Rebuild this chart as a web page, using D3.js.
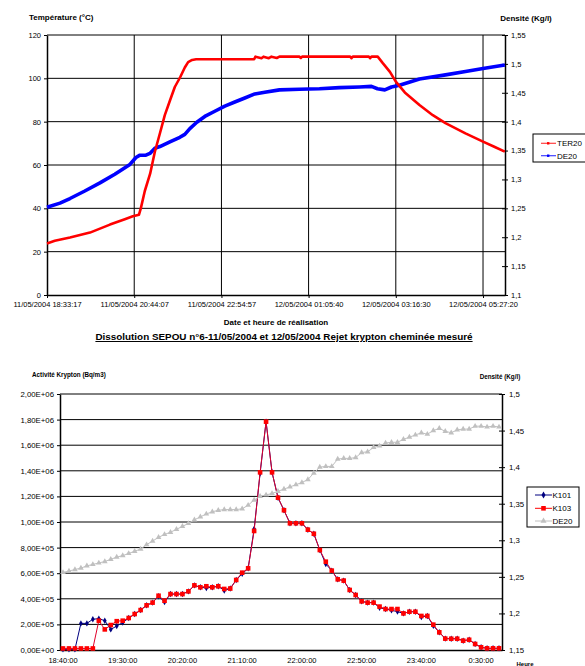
<!DOCTYPE html>
<html>
<head>
<meta charset="utf-8">
<script src="https://cdn.jsdelivr.net/npm/d3@7"></script>
<style>
body { margin: 0; background: #fff; }
svg { display: block; font-family: "Liberation Sans", Arial, sans-serif; }
</style>
</head>
<body>
<svg id="chart" width="585" height="666"></svg>
<script>
// ---- top chart data : temperature + density vs date ----
var topStart = "11/05/2004 18:33:17";
var topEnd = "12/05/2004 06:00:18";
var topTicks = ["11/05/2004 18:33:17", "11/05/2004 20:44:07", "11/05/2004 22:54:57",
                "12/05/2004 01:05:40", "12/05/2004 03:16:30", "12/05/2004 05:27:20"];
var tempTicks = [0, 20, 40, 60, 80, 100, 120];
var densTicks = [1.1, 1.15, 1.2, 1.25, 1.3, 1.35, 1.4, 1.45, 1.5, 1.55];

var ter20 = [
  ["11/05/2004 18:33:17", 23.8], ["11/05/2004 18:45:00", 25], ["11/05/2004 19:07:45", 26.5],
  ["11/05/2004 19:37:44", 28.8], ["11/05/2004 20:07:42", 32.5], ["11/05/2004 20:30:00", 35],
  ["11/05/2004 20:42:00", 36.3], ["11/05/2004 20:51:10", 37], ["11/05/2004 20:54:00", 40],
  ["11/05/2004 21:00:00", 48], ["11/05/2004 21:08:00", 56], ["11/05/2004 21:15:00", 66],
  ["11/05/2004 21:23:00", 75], ["11/05/2004 21:30:00", 83], ["11/05/2004 21:38:00", 90],
  ["11/05/2004 21:45:00", 96], ["11/05/2004 21:53:00", 100.5], ["11/05/2004 22:00:00", 105],
  ["11/05/2004 22:05:00", 107.5], ["11/05/2004 22:11:00", 108.5], ["11/05/2004 22:17:00", 108.8],
  ["11/05/2004 23:00:00", 108.8], ["11/05/2004 23:44:00", 108.8], ["11/05/2004 23:46:00", 110],
  ["11/05/2004 23:55:00", 109.3], ["11/05/2004 23:58:00", 110], ["12/05/2004 00:06:00", 109.3],
  ["12/05/2004 00:10:00", 110], ["12/05/2004 00:18:00", 109.4], ["12/05/2004 00:22:00", 110],
  ["12/05/2004 00:52:00", 110], ["12/05/2004 00:54:00", 109.4], ["12/05/2004 00:56:00", 110],
  ["12/05/2004 02:08:00", 110], ["12/05/2004 02:10:00", 109.3], ["12/05/2004 02:12:00", 110],
  ["12/05/2004 02:36:00", 110], ["12/05/2004 02:38:00", 109.3], ["12/05/2004 02:40:00", 110],
  ["12/05/2004 02:49:21", 110], ["12/05/2004 02:57:00", 107], ["12/05/2004 03:07:41", 103],
  ["12/05/2004 03:16:30", 98.5], ["12/05/2004 03:30:00", 93.5], ["12/05/2004 03:52:00", 87.7],
  ["12/05/2004 04:12:00", 83], ["12/05/2004 04:31:00", 79.3], ["12/05/2004 05:01:00", 74.6],
  ["12/05/2004 05:27:20", 70.8], ["12/05/2004 05:45:00", 68.3], ["12/05/2004 06:00:00", 66.2]
];

var de20Top = [
  ["11/05/2004 18:33:17", 1.252], ["11/05/2004 18:52:46", 1.259], ["11/05/2004 19:07:45", 1.267],
  ["11/05/2004 19:30:00", 1.280], ["11/05/2004 19:52:42", 1.294], ["11/05/2004 20:15:00", 1.309],
  ["11/05/2004 20:37:40", 1.326], ["11/05/2004 20:46:40", 1.338], ["11/05/2004 20:52:40", 1.342],
  ["11/05/2004 21:01:40", 1.342], ["11/05/2004 21:07:40", 1.345], ["11/05/2004 21:15:08", 1.354],
  ["11/05/2004 21:22:38", 1.357], ["11/05/2004 21:37:36", 1.365], ["11/05/2004 21:52:35", 1.373],
  ["11/05/2004 22:00:00", 1.378], ["11/05/2004 22:07:34", 1.388], ["11/05/2004 22:18:00", 1.399],
  ["11/05/2004 22:30:00", 1.409], ["11/05/2004 22:45:00", 1.418], ["11/05/2004 23:00:00", 1.427],
  ["11/05/2004 23:15:00", 1.434], ["11/05/2004 23:30:00", 1.441], ["11/05/2004 23:45:00", 1.448],
  ["12/05/2004 00:00:00", 1.451], ["12/05/2004 00:22:00", 1.455], ["12/05/2004 00:52:00", 1.456],
  ["12/05/2004 01:22:00", 1.457], ["12/05/2004 01:52:00", 1.459], ["12/05/2004 02:22:00", 1.460],
  ["12/05/2004 02:40:00", 1.461], ["12/05/2004 02:49:00", 1.457], ["12/05/2004 03:00:00", 1.455],
  ["12/05/2004 03:10:00", 1.460], ["12/05/2004 03:22:00", 1.463], ["12/05/2004 03:52:00", 1.474],
  ["12/05/2004 04:31:00", 1.481], ["12/05/2004 05:01:00", 1.487], ["12/05/2004 05:27:20", 1.492],
  ["12/05/2004 06:00:00", 1.498]
];

// ---- bottom chart data : krypton activity, one point every 5 minutes ----
var categories = [
  "18:40:00", "18:45:00", "18:50:00", "18:55:00", "19:00:00", "19:05:00", "19:10:00", "19:15:00",
  "19:20:00", "19:25:00", "19:30:00", "19:35:00", "19:40:00", "19:45:00", "19:50:00", "19:55:00",
  "20:00:00", "20:05:00", "20:10:00", "20:15:00", "20:20:00", "20:25:00", "20:30:00", "20:35:00",
  "20:40:00", "20:45:00", "20:50:00", "20:55:00", "21:00:00", "21:05:00", "21:10:00", "21:15:00",
  "21:20:00", "21:25:00", "21:30:00", "21:35:00", "21:40:00", "21:45:00", "21:50:00", "21:55:00",
  "22:00:00", "22:05:00", "22:10:00", "22:15:00", "22:20:00", "22:25:00", "22:30:00", "22:35:00",
  "22:40:00", "22:45:00", "22:50:00", "22:55:00", "23:00:00", "23:05:00", "23:10:00", "23:15:00",
  "23:20:00", "23:25:00", "23:30:00", "23:35:00", "23:40:00", "23:45:00", "23:50:00", "23:55:00",
  "0:00:00", "0:05:00", "0:10:00", "0:15:00", "0:20:00", "0:25:00", "0:30:00", "0:35:00",
  "0:40:00", "0:45:00"
];
var catLabels = ["18:40:00", "19:30:00", "20:20:00", "21:10:00", "22:00:00", "22:50:00", "23:40:00", "0:30:00"];
var kTicks = [0, 2e5, 4e5, 6e5, 8e5, 1e6, 1.2e6, 1.4e6, 1.6e6, 1.8e6, 2e6];
var dens2Ticks = [1.15, 1.2, 1.25, 1.3, 1.35, 1.4, 1.45, 1.5];

var k101 = [
  5000, 5000, 5000, 208000, 208000, 240000, 245000, 229000, 161000, 187000,
  215000, 250000, 281000, 312000, 349000, 370000, 420000, 375000, 437000, 437000,
  437000, 458000, 505000, 490000, 485000, 490000, 498000, 465000, 480000, 547000,
  595000, 638000, 945000, 1380000, 1784000, 1388000, 1190000, 1092000, 990000, 990000,
  990000, 940000, 908000, 781000, 672000, 620000, 552000, 542000, 469000, 430000,
  380000, 370000, 370000, 330000, 320000, 310000, 300000, 286000, 299000, 299000,
  258000, 266000, 190000, 138000, 89000, 88000, 88000, 73000, 80000, 47000,
  21000, 13000, 13000, 13000
];
var k103 = [
  12000, 12000, 12000, 12000, 12000, 12000, 229000, 161000, 195000, 225000,
  229000, 250000, 281000, 312000, 349000, 370000, 424000, 385000, 437000, 437000,
  437000, 458000, 505000, 490000, 498000, 490000, 498000, 477000, 480000, 547000,
  604000, 638000, 930000, 1388000, 1784000, 1388000, 1190000, 1092000, 990000, 990000,
  990000, 940000, 908000, 781000, 690000, 620000, 552000, 542000, 469000, 430000,
  380000, 370000, 370000, 339000, 320000, 320000, 320000, 286000, 299000, 299000,
  266000, 266000, 198000, 138000, 89000, 88000, 88000, 73000, 80000, 47000,
  21000, 13000, 13000, 13000
];
var de20Bottom = [
  1.256, 1.258, 1.260, 1.262, 1.265, 1.267, 1.269, 1.271, 1.274, 1.277,
  1.279, 1.282, 1.285, 1.288, 1.294, 1.299, 1.304, 1.308, 1.311, 1.315,
  1.319, 1.323, 1.328, 1.332, 1.336, 1.339, 1.341, 1.342, 1.342, 1.342,
  1.343, 1.348, 1.355, 1.360, 1.362, 1.364, 1.367, 1.370, 1.373, 1.376,
  1.379, 1.383, 1.392, 1.400, 1.401, 1.401, 1.411, 1.412, 1.412, 1.413,
  1.420, 1.421, 1.427, 1.429, 1.433, 1.434, 1.434, 1.438, 1.441, 1.444,
  1.447, 1.445, 1.450, 1.453, 1.449, 1.447, 1.451, 1.452, 1.452, 1.456,
  1.456, 1.455, 1.456, 1.455
];

var font = "Liberation Sans, Arial, sans-serif";
var svg = d3.select("#chart");
var commaNum = function(d) { return String(+d.toFixed(2)).replace(".", ","); };
var sciNum = function(d) {
  var s = d.toExponential(2).split("e");
  var ex = +s[1];
  return s[0].replace(".", ",") + "E" + (ex < 0 ? "-" : "+") + (Math.abs(ex) < 10 ? "0" : "") + Math.abs(ex);
};

// style helper for axis groups
function styleAxis(g, size) {
  g.attr("font-family", font).attr("font-size", size);
  g.selectAll("text").attr("fill", "#000");
  g.selectAll("line").attr("stroke", "#000");
  g.select(".domain").attr("stroke", "#000").attr("stroke-width", 1.5);
}

////
//// Top chart
////
var parseT = d3.timeParse("%d/%m/%Y %H:%M:%S");
var fmtT = d3.timeFormat("%d/%m/%Y %H:%M:%S");
var tL = 47, tR = 505, tTop = 35, tBot = 295;

var xT = d3.scaleTime().domain([parseT(topStart), parseT(topEnd)]).range([tL, tR]);
var yTemp = d3.scaleLinear().domain([0, 120]).range([tBot, tTop]);
var yDens = d3.scaleLinear().domain([1.1, 1.55]).range([tBot, tTop]);

var gTop = svg.append("g");

// grid
gTop.append("g").selectAll("line")
  .data(tempTicks.slice(1))
  .enter().append("line")
  .attr("x1", tL).attr("x2", tR)
  .attr("y1", function(d) { return yTemp(d); })
  .attr("y2", function(d) { return yTemp(d); })
  .attr("stroke", "#000").attr("stroke-width", 1);
gTop.append("g").selectAll("line")
  .data(topTicks.slice(1))
  .enter().append("line")
  .attr("x1", function(d) { return xT(parseT(d)); })
  .attr("x2", function(d) { return xT(parseT(d)); })
  .attr("y1", tTop).attr("y2", tBot)
  .attr("stroke", "#000").attr("stroke-width", 1);

// axes
gTop.append("g")
  .attr("transform", "translate(" + tL + ",0)")
  .call(d3.axisLeft(yTemp).tickValues(tempTicks).tickSize(3).tickSizeOuter(0).tickPadding(3))
  .call(styleAxis, 7.5);

var axR = gTop.append("g")
  .attr("transform", "translate(" + tR + ",0)")
  .call(d3.axisRight(yDens).tickValues(densTicks).tickFormat(commaNum).tickSize(3).tickSizeOuter(0).tickPadding(3))
  .call(styleAxis, 7.5);
axR.selectAll(".tick line").attr("x1", -3);

gTop.append("g")
  .attr("transform", "translate(0," + tBot + ")")
  .call(d3.axisBottom(xT).tickValues(topTicks.map(parseT)).tickFormat(fmtT).tickSize(3).tickSizeOuter(0).tickPadding(4))
  .call(styleAxis, 7.5);

// series
var lineTemp = d3.line()
  .x(function(d) { return xT(parseT(d[0])); })
  .y(function(d) { return yTemp(d[1]); });
var lineDens = d3.line()
  .x(function(d) { return xT(parseT(d[0])); })
  .y(function(d) { return yDens(d[1]); });

gTop.append("path").datum(de20Top)
  .attr("d", lineDens).attr("fill", "none")
  .attr("stroke", "#0000ff").attr("stroke-width", 3.6).attr("stroke-linejoin", "round");
gTop.append("path").datum(ter20)
  .attr("d", lineTemp).attr("fill", "none")
  .attr("stroke", "#ff0000").attr("stroke-width", 2.6).attr("stroke-linejoin", "round");

// titles
gTop.append("text").attr("x", 29).attr("y", 20)
  .attr("font-family", font).attr("font-size", 8).attr("font-weight", "bold")
  .text("Température (°C)");
gTop.append("text").attr("x", 526).attr("y", 21).attr("text-anchor", "middle")
  .attr("font-family", font).attr("font-size", 8).attr("font-weight", "bold")
  .text("Densité (Kg/l)");
gTop.append("text").attr("x", 276).attr("y", 324.5).attr("text-anchor", "middle")
  .attr("font-family", font).attr("font-size", 8).attr("font-weight", "bold")
  .text("Date et heure de réalisation");

// legend
var legTop = gTop.append("g");
legTop.append("rect").attr("x", 533).attr("y", 134).attr("width", 60).attr("height", 28)
  .attr("fill", "#fff").attr("stroke", "#000");
[["TER20", "#ff0000", 143.3], ["DE20", "#0000ff", 155.7]].forEach(function(e) {
  legTop.append("line").attr("x1", 541).attr("x2", 556).attr("y1", e[2]).attr("y2", e[2])
    .attr("stroke", e[1]).attr("stroke-width", 1.2).attr("opacity", 0.75);
  legTop.append("rect").attr("x", 547).attr("y", e[2] - 1.2).attr("width", 2.4).attr("height", 2.4)
    .attr("fill", e[1]);
  legTop.append("text").attr("x", 557).attr("y", e[2] + 3)
    .attr("font-family", font).attr("font-size", 8).text(e[0]);
});

////
//// Bottom chart
////
var bL = 60, bR = 502, bTop = 394, bBot = 650;
var xB = d3.scaleBand().domain(categories).range([bL, bR]);
var cx = function(i) { return xB(categories[i]) + xB.bandwidth() / 2; };
var yK = d3.scaleLinear().domain([0, 2e6]).range([bBot, bTop]);
var yD2 = d3.scaleLinear().domain([1.15, 1.5]).range([bBot, bTop]);

var gBot = svg.append("g");

svg.append("text").attr("x", 284).attr("y", 340).attr("text-anchor", "middle")
  .attr("font-family", font).attr("font-size", 9.9).attr("font-weight", "bold")
  .attr("text-decoration", "underline")
  .text("Dissolution SEPOU n°6-11/05/2004 et 12/05/2004 Rejet krypton cheminée mesuré");

gBot.append("g").selectAll("line")
  .data(kTicks.slice(1))
  .enter().append("line")
  .attr("x1", bL).attr("x2", bR)
  .attr("y1", function(d) { return yK(d); })
  .attr("y2", function(d) { return yK(d); })
  .attr("stroke", "#000").attr("stroke-width", 1);

gBot.append("g")
  .attr("transform", "translate(" + bL + ",0)")
  .call(d3.axisLeft(yK).tickValues(kTicks).tickFormat(sciNum).tickSize(3).tickSizeOuter(0).tickPadding(3))
  .call(styleAxis, 7.8);

var axR2 = gBot.append("g")
  .attr("transform", "translate(" + bR + ",0)")
  .call(d3.axisRight(yD2).tickValues(dens2Ticks).tickFormat(commaNum).tickSize(3).tickSizeOuter(0).tickPadding(4))
  .call(styleAxis, 7.8);
axR2.selectAll(".tick line").attr("x1", -3);

var axB = gBot.append("g")
  .attr("transform", "translate(0," + bBot + ")")
  .call(d3.axisBottom(xB).tickValues(catLabels).tickSize(0).tickSizeOuter(0).tickPadding(8))
  .call(styleAxis, 7.5);

// series lines + markers
var lineK = d3.line().x(function(d, i) { return cx(i); }).y(function(d) { return yK(d); });
var lineD2 = d3.line().x(function(d, i) { return cx(i); }).y(function(d) { return yD2(d); });

gBot.append("path").datum(k101).attr("d", lineK).attr("fill", "none")
  .attr("stroke", "#000080").attr("stroke-width", 1);
gBot.append("g").selectAll("path").data(k101).enter().append("path")
  .attr("transform", function(d, i) { return "translate(" + cx(i) + "," + yK(d) + ")"; })
  .attr("d", d3.symbol().type(d3.symbolDiamond).size(12))
  .attr("fill", "#000080");

gBot.append("path").datum(k103).attr("d", lineK).attr("fill", "none")
  .attr("stroke", "#e0002a").attr("stroke-width", 1);
gBot.append("g").selectAll("rect").data(k103).enter().append("rect")
  .attr("x", function(d, i) { return cx(i) - 2.3; })
  .attr("y", function(d) { return yK(d) - 2.3; })
  .attr("width", 4.6).attr("height", 4.6)
  .attr("fill", "#ff0000");

gBot.append("path").datum(de20Bottom).attr("d", lineD2).attr("fill", "none")
  .attr("stroke", "#c0c0c0").attr("stroke-width", 1);
gBot.append("g").selectAll("path").data(de20Bottom).enter().append("path")
  .attr("transform", function(d, i) { return "translate(" + cx(i) + "," + yD2(d) + ")"; })
  .attr("d", d3.symbol().type(d3.symbolTriangle).size(14))
  .attr("fill", "#c0c0c0");

// titles
gBot.append("text").attr("x", 32).attr("y", 377)
  .attr("font-family", font).attr("font-size", 6.3).attr("font-weight", "bold")
  .text("Activité Krypton (Bq/m3)");
gBot.append("text").attr("x", 500).attr("y", 379).attr("text-anchor", "middle")
  .attr("font-family", font).attr("font-size", 6.3).attr("font-weight", "bold")
  .text("Densité (Kg/l)");
gBot.append("text").attr("x", 525).attr("y", 665.5).attr("text-anchor", "middle")
  .attr("font-family", font).attr("font-size", 6).attr("font-weight", "bold")
  .text("Heure");

// legend
var legBot = gBot.append("g");
legBot.append("rect").attr("x", 527).attr("y", 487).attr("width", 52).attr("height", 40)
  .attr("fill", "#fff").attr("stroke", "#000");
[["K101", "#000080", 495, d3.symbolDiamond, 14],
 ["K103", "#ff0000", 508.3, d3.symbolSquare, 21],
 ["DE20", "#c0c0c0", 521, d3.symbolTriangle, 16]].forEach(function(e) {
  legBot.append("line").attr("x1", 535).attr("x2", 552).attr("y1", e[2]).attr("y2", e[2])
    .attr("stroke", e[1]).attr("stroke-width", 1);
  legBot.append("path").attr("transform", "translate(543.5," + e[2] + ")")
    .attr("d", d3.symbol().type(e[3]).size(e[4])).attr("fill", e[1]);
  legBot.append("text").attr("x", 552.5).attr("y", e[2] + 3)
    .attr("font-family", font).attr("font-size", 8).text(e[0]);
});
</script>
</body>
</html>
